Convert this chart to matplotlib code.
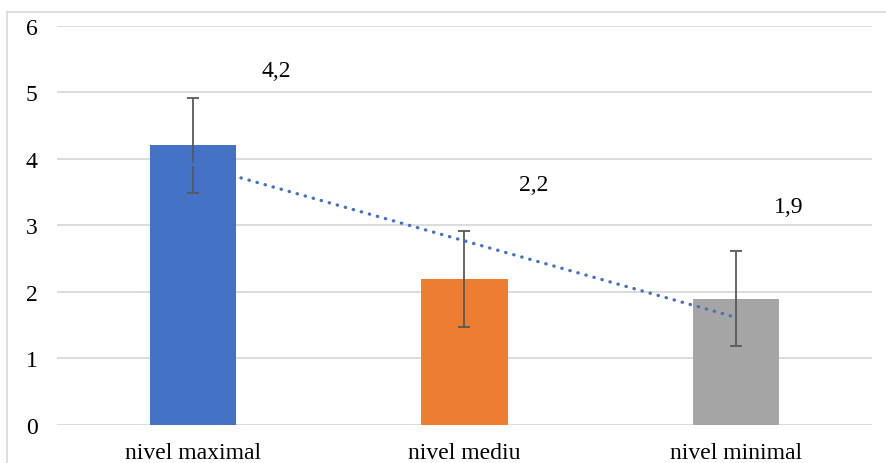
import matplotlib
matplotlib.use("Agg")
import matplotlib.pyplot as plt
import numpy as np
from matplotlib.lines import Line2D

categories = ["nivel maximal", "nivel mediu", "nivel minimal"]
values = [4.2, 2.2, 1.9]
errors = [0.72, 0.72, 0.72]
value_labels = ["4,2", "2,2", "1,9"]
yticks = [0, 1, 2, 3, 4, 5, 6]

colors = ["#4472C4", "#ED7D31", "#A5A5A5"]
label_offsets_pt = [(60, 54), (50, 68), (38, 66)]

plt.rcParams['font.family'] = ['Liberation Serif', 'DejaVu Serif']

W, H = 886, 464
fig = plt.figure(figsize=(W / 100, H / 100), dpi=100)
ax = fig.add_axes([57 / W, (H - 426) / H, (872 - 57) / W, (426 - 26.7) / H])

x = np.arange(len(categories))
ax.set_axisbelow(True)
ax.yaxis.grid(True, color="#d9d9d9", lw=1.3)
ax.bar(x, values, width=0.317, color=colors, zorder=2)
ax.errorbar(x, values, yerr=errors, fmt="none", ecolor="#595959", elinewidth=1.3,
            capsize=4.5, capthick=1.3, zorder=3)

coef = np.polyfit(x, values, 1)
ax.plot(x, np.polyval(coef, x), color="#4472C4", lw=2.4, linestyle=(0, (0.1, 2.4)),
        dash_capstyle="round", zorder=4)

for i, (v, lab) in enumerate(zip(values, value_labels)):
    ax.annotate(lab, xy=(i, v), xytext=label_offsets_pt[i], textcoords="offset points",
                ha="center", va="center", fontsize=17, color="#000000")

ax.set_xlim(-0.5, 2.5)
ax.set_ylim(0, 6)
ax.set_yticks(yticks)
ax.set_yticklabels([str(t) for t in yticks], fontsize=17)
ax.set_xticks(x)
ax.set_xticklabels(categories, fontsize=17)
ax.tick_params(axis="both", length=0)
ax.tick_params(axis="y", pad=14)
ax.tick_params(axis="x", pad=12)
for s in ax.spines.values():
    s.set_visible(False)

# chart border
fig.add_artist(Line2D([7 / W, 7 / W], [0, (H - 13) / H], color="#d9d9d9", lw=1.2,
                      transform=fig.transFigure))
fig.add_artist(Line2D([7 / W, 1], [(H - 13) / H, (H - 13) / H], color="#d9d9d9", lw=1.2,
                      transform=fig.transFigure))

fig.savefig("out.png", dpi=100)
